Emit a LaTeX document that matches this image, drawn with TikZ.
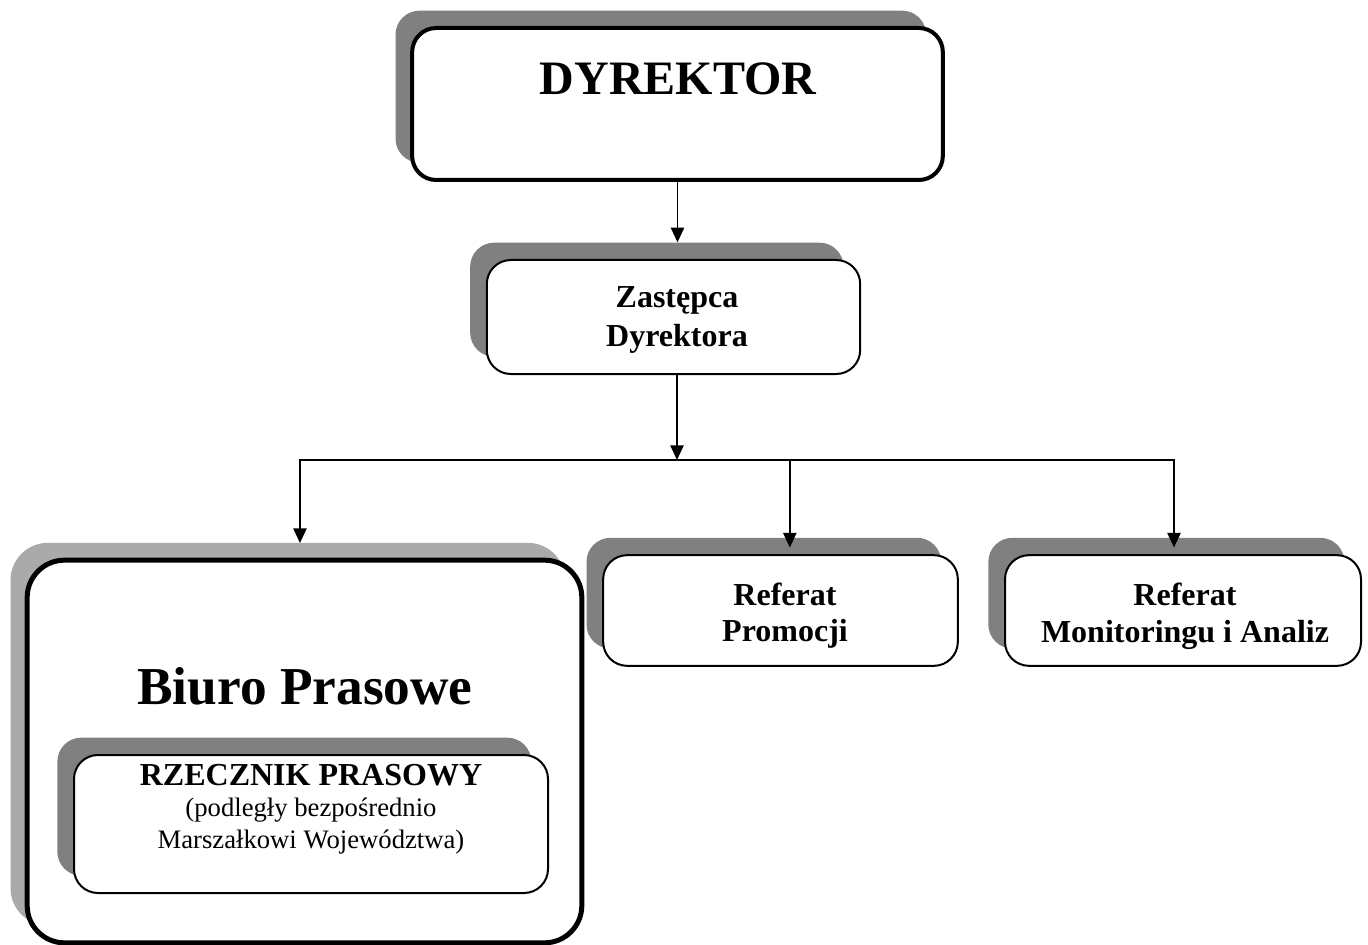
\documentclass[tikz,border=0pt]{standalone}
\usepackage{fontspec}
\setmainfont{Liberation Serif}
\usetikzlibrary{arrows.meta,shadows}

\definecolor{shadowdark}{RGB}{128,128,128}
\definecolor{shadowlight}{RGB}{170,170,170}

\tikzset{
  orgbox/.style={draw=black, fill=white, rounded corners=18pt, line width=1.5pt, inner sep=0pt},
  darkshadow/.style={general shadow={fill=shadowdark, shadow xshift=-12.5pt, shadow yshift=13pt}},
  lightshadow/.style={general shadow={fill=shadowlight, shadow xshift=-12.5pt, shadow yshift=13pt}},
  boxtext/.style={align=center, inner sep=0pt, font=\fontsize{24}{29}\selectfont\bfseries},
  conn/.style={line width=1.1pt, -{Triangle[length=11pt,width=10pt]}},
}

\begin{document}
\begin{tikzpicture}[x=0.75pt,y=0.75pt,yscale=-1,xscale=1]
\useasboundingbox (0,0) rectangle (1368,945);

% Dyrektor
\node[orgbox, darkshadow, line width=3pt, minimum width=398pt, minimum height=114pt] (dyr) at (677.5,104) {};
\node[boxtext, font=\fontsize{36}{40}\selectfont\bfseries] (dyrlabel) at (678,79) {DYREKTOR};

% Zastepca
\node[orgbox, darkshadow, minimum width=280pt, minimum height=85.5pt] (zast) at (673.5,317) {};
\node[boxtext] (zastlabel) at (677,320) {Zastępca\\Dyrektora};

% referaty
\node[orgbox, darkshadow, minimum width=266pt, minimum height=83pt] (promo) at (780.5,610.5) {};
\node[boxtext, font=\fontsize{24}{27}\selectfont\bfseries] (promolabel) at (785,616) {Referat\\Promocji};

\node[orgbox, darkshadow, minimum width=267pt, minimum height=83pt] (monit) at (1183,610.5) {};
\node[boxtext, font=\fontsize{24}{28}\selectfont\bfseries] (monitlabel) at (1185,616) {Referat\\Monitoringu i Analiz};

% Biuro Prasowe
\node[orgbox, lightshadow, line width=3.75pt, rounded corners=28pt, minimum width=416pt, minimum height=287pt] (biuro) at (304.5,751.5) {};
\node[boxtext, font=\fontsize{40}{44}\selectfont\bfseries] (biurolabel) at (305,686) {Biuro Prasowe};

\node[orgbox, darkshadow, minimum width=355.5pt, minimum height=103.5pt] (rzecz) at (311,824) {};
\node[align=center, inner sep=0pt, anchor=north, font=\fontsize{20}{23.5}\selectfont] (rzeczlabel) at (311,764)
  {{\fontsize{24}{28}\selectfont\bfseries RZECZNIK PRASOWY}\\(podległy bezpośrednio\\Marszałkowi Województwa)};

% polaczenia
\coordinate (bus) at (677,460);
\draw[conn] (dyr.south) -- ([yshift=-12.5pt]zast.north -| dyr.south);
\draw[conn] (zast.south -| bus) -- (bus);
\draw[conn] (bus) -| ([xshift=-3.4pt,yshift=-11pt]biuro.north);
\draw[conn] (bus) -| ([xshift=7pt,yshift=-5pt]promo.north);
\draw[conn] (bus) -| ([xshift=-6.75pt,yshift=-5pt]monit.north);

\end{tikzpicture}
\end{document}
